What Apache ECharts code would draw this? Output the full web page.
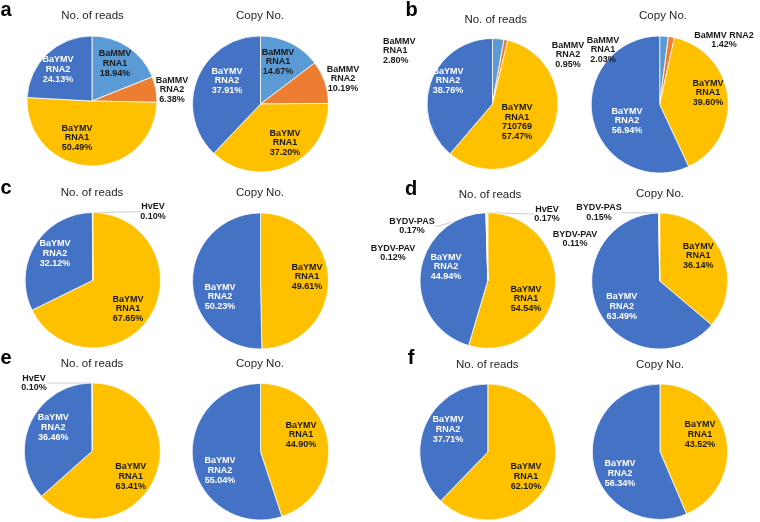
<!DOCTYPE html>
<html><head><meta charset="utf-8">
<script src="https://cdn.jsdelivr.net/npm/echarts@6/dist/echarts.min.js"></script>
<style>html,body{margin:0;padding:0;background:#fff}#c{width:760px;height:522px}</style>
</head><body><div id="c"></div>
<script>
// ---------------- data ----------------
const panelLetters = ['a', 'b', 'c', 'd', 'e', 'f'];
const pieTitles = ['No. of reads', 'Copy No.'];

const aReadsNames = ['BaMMV RNA1', 'BaMMV RNA2', 'BaYMV RNA1', 'BaYMV RNA2'];
const aReadsValues = [18.94, 6.38, 50.49, 24.13];
const aCopyNames = ['BaMMV RNA1', 'BaMMV RNA2', 'BaYMV RNA1', 'BaYMV RNA2'];
const aCopyValues = [14.67, 10.19, 37.20, 37.91];

const bReadsNames = ['BaMMV RNA1', 'BaMMV RNA2', 'BaYMV RNA1', 'BaYMV RNA2'];
const bReadsValues = [2.80, 0.95, 57.47, 38.76];
const bReadsCounts = [null, null, 710769, null];
const bCopyNames = ['BaMMV RNA1', 'BaMMV RNA2', 'BaYMV RNA1', 'BaYMV RNA2'];
const bCopyValues = [2.03, 1.42, 39.60, 56.94];

const cReadsNames = ['BaYMV RNA1', 'BaYMV RNA2', 'HvEV'];
const cReadsValues = [67.65, 32.12, 0.10];
const cCopyNames = ['BaYMV RNA1', 'BaYMV RNA2'];
const cCopyValues = [49.61, 50.23];

const dReadsNames = ['BaYMV RNA1', 'BaYMV RNA2', 'BYDV-PAV', 'BYDV-PAS', 'HvEV'];
const dReadsValues = [54.54, 44.94, 0.12, 0.17, 0.17];
const dCopyNames = ['BaYMV RNA1', 'BaYMV RNA2', 'BYDV-PAV', 'BYDV-PAS'];
const dCopyValues = [36.14, 63.49, 0.11, 0.15];

const eReadsNames = ['BaYMV RNA1', 'BaYMV RNA2', 'HvEV'];
const eReadsValues = [63.41, 36.46, 0.10];
const eCopyNames = ['BaYMV RNA1', 'BaYMV RNA2'];
const eCopyValues = [44.90, 55.04];

const fReadsNames = ['BaYMV RNA1', 'BaYMV RNA2'];
const fReadsValues = [62.10, 37.71];
const fCopyNames = ['BaYMV RNA1', 'BaYMV RNA2'];
const fCopyValues = [43.52, 56.34];

// ---------------- styles / layout ----------------
const colorOf = {
  'BaMMV RNA1': '#5B9BD5', 'BaMMV RNA2': '#ED7D31',
  'BaYMV RNA1': '#FFC000', 'BaYMV RNA2': '#4472C4',
  'HvEV': '#A9C4E6', 'BYDV-PAV': '#A9C4E6', 'BYDV-PAS': '#BDD0EA'
};
const FONT = "'Liberation Sans', Arial, Helvetica, sans-serif";

// each pie: center, radius, label offsets from centre [dx, dy, flag]
// flags: L = left aligned, 1 = single-line name, G = leader line
const pies = [
  {names: aReadsNames, values: aReadsValues, c: [92, 101], r: 65,
   lab: [[23, -37.5], [80, -11], [-15, 37], [-34, -31.5]]},
  {names: aCopyNames, values: aCopyValues, c: [260.5, 104], r: 68,
   lab: [[17.5, -42], [82.5, -25], [24.5, 39], [-33.5, -23]]},
  {names: bReadsNames, values: bReadsValues, counts: bReadsCounts, c: [492.5, 104], r: 65.5,
   lab: [[-109.5, -53, 'L'], [75.5, -49], [24.5, 18], [-44.5, -23]]},
  {names: bCopyNames, values: bCopyValues, c: [659.7, 104.5], r: 68.5,
   lab: [[-56.7, -54.5], [64.3, -64.5, '1'], [48.3, -11.5], [-32.7, 16.5]]},
  {names: cReadsNames, values: cReadsValues, c: [92.8, 280.3], r: 67.7,
   lab: [[35.2, 28.7], [-37.8, -27], [60.2, -68.6, 'G']]},
  {names: cCopyNames, values: cCopyValues, c: [260.5, 281], r: 68,
   lab: [[46.5, -4], [-40.5, 16]]},
  {names: dReadsNames, values: dReadsValues, c: [487.8, 280.5], r: 67.8,
   lab: [[38.2, 18.5], [-41.8, -13.5], [-94.8, -27.5], [-75.8, -54.5, 'G'], [59.2, -66.5, 'G']]},
  {names: dCopyNames, values: dCopyValues, c: [659.7, 281], r: 68,
   lab: [[38.6, -25], [-38, 25.7], [-84.7, -42], [-60.7, -68.3, 'G']]},
  {names: eReadsNames, values: eReadsValues, c: [92.3, 451], r: 68,
   lab: [[38.4, 25.7], [-39, -23.7], [-58.3, -68, 'G']]},
  {names: eCopyNames, values: eCopyValues, c: [260.5, 451.7], r: 68.3,
   lab: [[40.5, -16.7], [-40.5, 19]]},
  {names: fReadsNames, values: fReadsValues, c: [487.8, 452], r: 68,
   lab: [[38.2, 24.7], [-39.8, -22.7]]},
  {names: fCopyNames, values: fCopyValues, c: [660, 451.7], r: 67.7,
   lab: [[40, -17.4], [-40, 21.6]]}
];

const titlePos = [
  [92.5, 16.3], [260, 16.3], [495.7, 20.3], [663, 16.3],
  [92, 193], [260, 193], [490, 195.3], [660, 193.6],
  [92, 363.6], [260, 363.6], [487.3, 364.6], [660, 364.6]
];
const letterPos = [[6, 10.4], [411.7, 10], [6, 188.4], [411, 189.4], [6, 358.4], [411, 358.4]];

// ---------------- build ----------------
const series = pies.map(function (p, si) {
  return {
    type: 'pie',
    center: p.c,
    radius: p.r,
    startAngle: 90,
    clockwise: true,
    avoidLabelOverlap: false,
    animation: false,
    silent: true,
    itemStyle: {borderColor: '#ffffff', borderWidth: 0.8},
    label: {
      show: true,
      position: 'outside',
      fontFamily: FONT,
      fontWeight: 'bold',
      fontSize: 9,
      lineHeight: 9.8,
      formatter: function (params) {
        const L = p.lab[params.dataIndex];
        const nm = (L[2] === '1') ? params.name : params.name.replace(' ', '\n');
        const cnt = p.counts && p.counts[params.dataIndex] != null ? '\n' + p.counts[params.dataIndex] : '';
        return nm + cnt + '\n' + params.value.toFixed(2) + '%';
      }
    },
    labelLine: {show: false, length: 4, length2: 4, lineStyle: {color: '#BFBFBF', width: 0.8}},
    labelLayout: function (params) {
      const L = p.lab[params.dataIndex];
      return {
        x: p.c[0] + L[0],
        y: p.c[1] + L[1],
        align: L[2] === 'L' ? 'left' : 'center',
        verticalAlign: 'middle'
      };
    },
    data: p.names.map(function (n, i) {
      const L = p.lab[i];
      const blue = n === 'BaYMV RNA2';
      return {
        name: n,
        value: p.values[i],
        itemStyle: {color: colorOf[n]},
        label: {color: blue ? '#ffffff' : '#1a1a1a'},
        labelLine: {show: L[2] === 'G'}
      };
    })
  };
});

const graphic = [];
titlePos.forEach(function (t, i) {
  graphic.push({
    type: 'text', x: t[0], y: t[1], silent: true,
    style: {text: pieTitles[i % 2], fill: '#262626', font: '11.5px ' + FONT,
            textAlign: 'center', textVerticalAlign: 'middle', align: 'center', verticalAlign: 'middle'}
  });
});
letterPos.forEach(function (t, i) {
  graphic.push({
    type: 'text', x: t[0], y: t[1], silent: true,
    style: {text: panelLetters[i], fill: '#000000', font: 'bold 20px ' + FONT,
            textAlign: 'center', textVerticalAlign: 'middle', align: 'center', verticalAlign: 'middle'}
  });
});

const chart = echarts.init(document.getElementById('c'), null, {renderer: 'canvas'});
chart.setOption({
  animation: false,
  backgroundColor: '#ffffff',
  series: series,
  graphic: graphic
});
</script>
</body></html>
